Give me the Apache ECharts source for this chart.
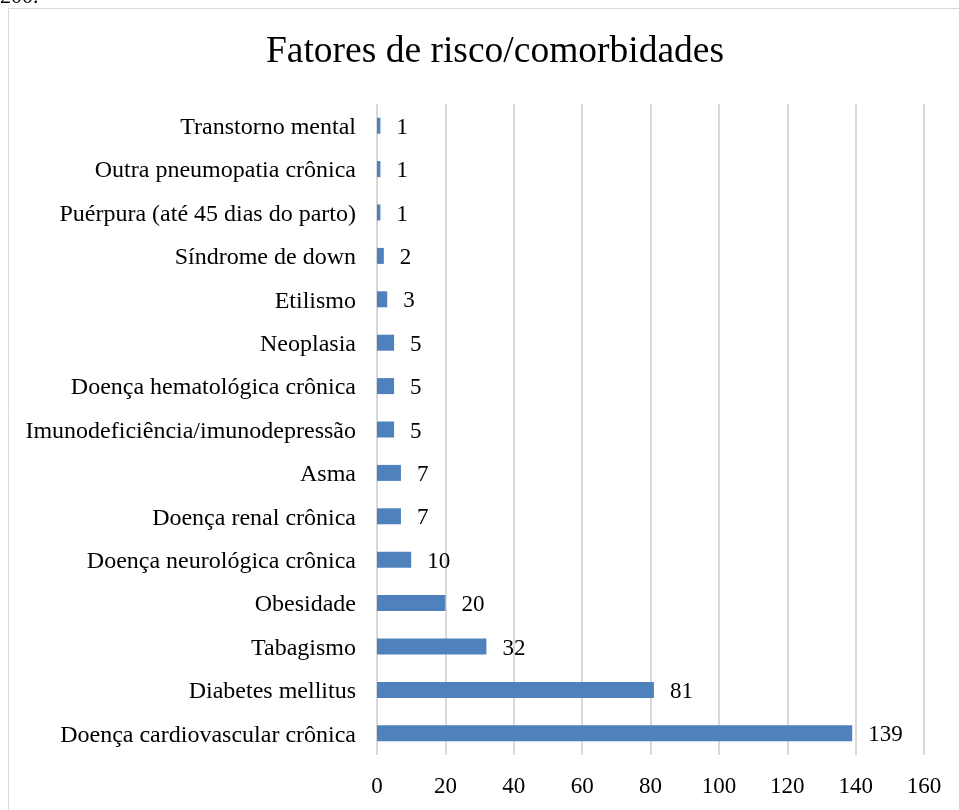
<!DOCTYPE html>
<html>
<head>
<meta charset="utf-8">
<script src="https://cdn.jsdelivr.net/npm/echarts@6/dist/echarts.min.js"></script>
<style>
html,body{margin:0;padding:0;background:#fff;}
#chart{width:959px;height:810px;}
</style>
</head>
<body>
<div id="chart"></div>
<script>
const titleText = 'Fatores de risco/comorbidades';
const categories = [
  'Doença cardiovascular crônica',
  'Diabetes mellitus',
  'Tabagismo',
  'Obesidade',
  'Doença neurológica crônica',
  'Doença renal crônica',
  'Asma',
  'Imunodeficiência/imunodepressão',
  'Doença hematológica crônica',
  'Neoplasia',
  'Etilismo',
  'Síndrome de down',
  'Puérpura (até 45 dias do parto)',
  'Outra pneumopatia crônica',
  'Transtorno mental'
];
const values = [139, 81, 32, 20, 10, 7, 7, 5, 5, 5, 3, 2, 1, 1, 1];
const xTicks = [0, 20, 40, 60, 80, 100, 120, 140, 160];

const FONT = '"Liberation Serif", "Times New Roman", serif';
const chart = echarts.init(document.getElementById('chart'));
chart.setOption({
  backgroundColor: '#fff',
  animation: false,
  title: {
    text: titleText,
    left: 490, top: 28, textAlign: 'center',
    textStyle: {fontFamily: FONT, fontSize: 37.5, fontWeight: 'normal', color: '#000'}
  },
  graphic: [
    {type: 'rect', shape: {x: 8.5, y: 8.5, width: 1000, height: 900}, style: {fill: 'none', stroke: '#d9d9d9', lineWidth: 1}},
    {type: 'text', left: 0, top: -14, style: {text: '200.', font: '22px ' + FONT, fill: '#000'}}
  ],
  grid: {left: 377, right: 35, top: 104, bottom: 55},
  xAxis: {
    type: 'value', min: xTicks[0], max: xTicks[xTicks.length - 1], interval: 20,
    axisLine: {show: false}, axisTick: {show: false},
    splitLine: {show: true, lineStyle: {color: '#d9d9d9', width: 2}},
    axisLabel: {fontFamily: FONT, fontSize: 23, color: '#000', margin: 20}
  },
  yAxis: {
    type: 'category', data: categories,
    axisLine: {show: false}, axisTick: {show: false},
    axisLabel: {
      margin: 21,
      formatter: function (v) { return '{a|' + v + '}'; },
      rich: {a: {fontFamily: FONT, fontSize: 24, color: '#000', padding: [4, 0, 0, 0]}}
    }
  },
  series: [{
    type: 'bar', data: values, barWidth: 16,
    itemStyle: {color: '#4f81bd'},
    label: {show: true, position: 'right', distance: 16, offset: [0, 2], fontFamily: FONT, fontSize: 23, color: '#000'}
  }]
});
</script>
</body>
</html>
